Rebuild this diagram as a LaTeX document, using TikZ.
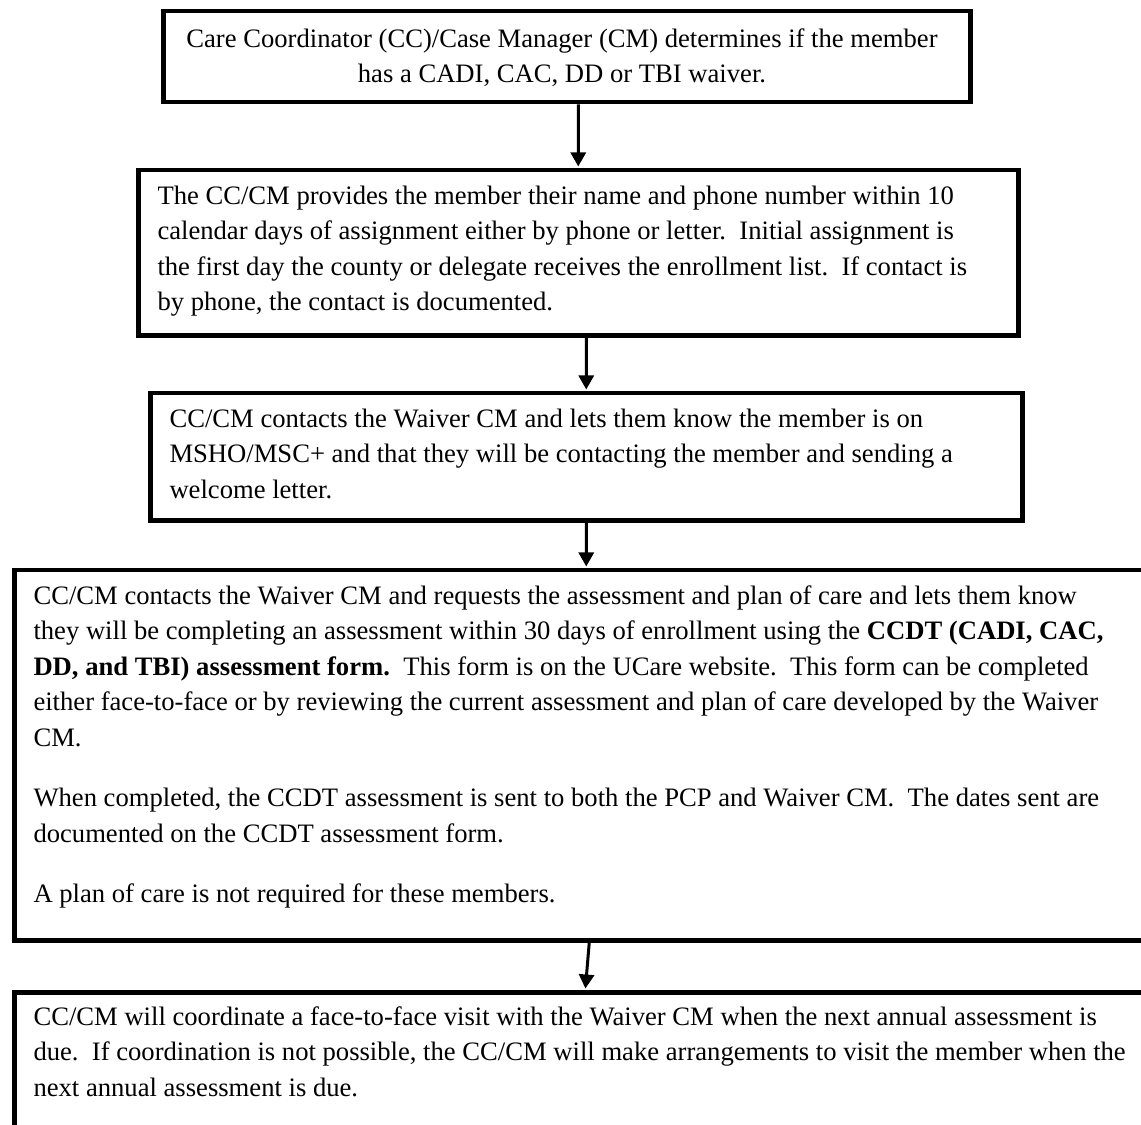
\documentclass[tikz,border=0pt]{standalone}
\usepackage{fontspec}
\setmainfont{Liberation Serif}
\usetikzlibrary{arrows.meta,calc}
\newcommand\boxfont{\fontsize{10.65pt}{14.2pt}\selectfont\frenchspacing}
\tikzset{
  stepbox/.style={draw, line width=1.8pt, rectangle, inner sep=0pt, anchor=north west},
  boxtext/.style={inner sep=0pt, anchor=north west, align=flush left, text width=440pt, font=\boxfont},
  flowarrow/.style={line width=1.2pt, -{Triangle[length=5.6pt,width=6pt]}, shorten >=0.6pt},
}
\begin{document}
\begin{tikzpicture}[x=0.4pt,y=-0.4pt]
\useasboundingbox (0,0) rectangle (1141,1125);
\clip (0,0) rectangle (1141,1125);

% boxes
\node[stepbox, minimum width=322.8pt, minimum height=36.4pt] (b1) at (161,9) {};
\node[stepbox, minimum width=352pt, minimum height=66pt] (b2) at (136,168) {};
\node[stepbox, minimum width=348.8pt, minimum height=50.8pt] (b3) at (148,391) {};
\node[stepbox, minimum width=457.6pt, minimum height=148pt] (b4) at (12,568) {};
\node[stepbox, minimum width=457.6pt, minimum height=84pt] (b5) at (12,990) {};

% texts
\node[inner sep=0pt, anchor=north, align=flush center, font=\boxfont] (t1) at (562,22)
  {\strut Care Coordinator (CC)/Case Manager (CM) determines if the member\\
   has a CADI, CAC, DD or TBI waiver.};

\node[boxtext] (t2) at ($(b2.north west)+(21,11)$)
  {\strut The CC/CM provides the member their name and phone number within 10\\
   calendar days of assignment either by phone or letter.~ Initial assignment is\\
   the first day the county or delegate receives the enrollment list.~ If contact is\\
   by phone, the contact is documented.};

\node[boxtext] (t3) at ($(b3.north west)+(21,11)$)
  {\strut CC/CM contacts the Waiver CM and lets them know the member is on\\
   MSHO/MSC+ and that they will be contacting the member and sending a\\
   welcome letter.};

\node[boxtext, text width=460pt] (t4) at ($(b4.north west)+(21,11)$)
  {\strut CC/CM contacts the Waiver CM and requests the assessment and plan of care and lets them know\\
   they will be completing an assessment within 30 days of enrollment using the \textbf{CCDT (CADI, CAC,}\\
   \textbf{DD, and TBI) assessment form.}~ This form is on the UCare website.~ This form can be completed\\
   either face-to-face or by reviewing the current assessment and plan of care developed by the Waiver\\
   CM.\\[10pt]
   When completed, the CCDT assessment is sent to both the PCP and Waiver CM.~ The dates sent are\\
   documented on the CCDT assessment form.\\[10pt]
   A plan of care is not required for these members.};

\node[boxtext, text width=460pt] (t5) at ($(b5.north west)+(21,10)$)
  {\strut CC/CM will coordinate a face-to-face visit with the Waiver CM when the next annual assessment is\\
   due.~ If coordination is not possible, the CC/CM will make arrangements to visit the member when the\\
   next annual assessment is due.};

% connectors
\draw[flowarrow] ([xshift=4.6pt]b1.south) -- (b2.north);
\draw[flowarrow] ([xshift=3.2pt]b2.south) -- (b3.north);
\draw[flowarrow] (b3.south) -- (b4.north);
\draw[flowarrow] ([xshift=1.2pt]b4.south) -- ([xshift=-0.4pt]b5.north);
\end{tikzpicture}
\end{document}
